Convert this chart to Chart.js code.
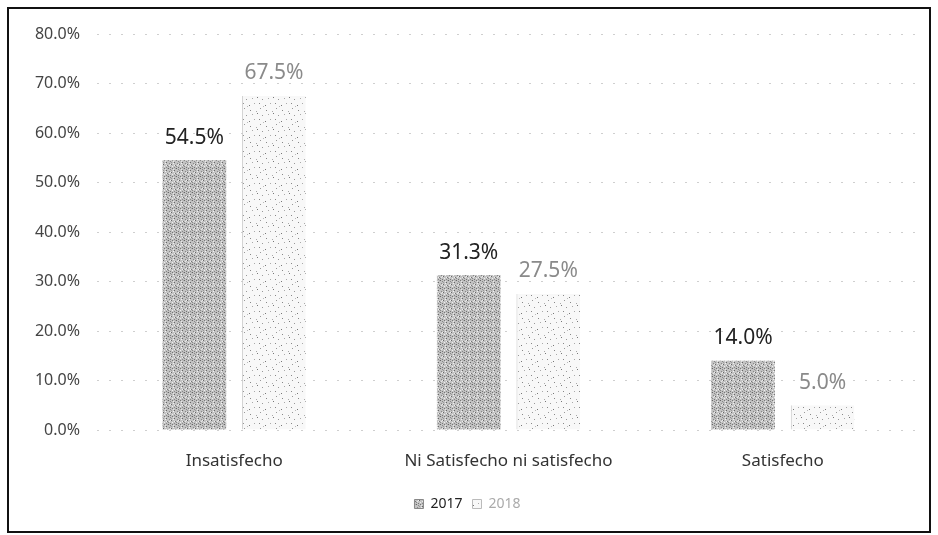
<!DOCTYPE html>
<html>
<head>
<meta charset="utf-8">
<script src="https://cdn.jsdelivr.net/npm/chart.js@4/dist/chart.umd.min.js"></script>
<style>
html,body{margin:0;padding:0;background:#fff;}
#wrap{width:938px;height:535px;}
</style>
</head>
<body>
<div id="wrap"><canvas id="c" width="938" height="535"></canvas></div>
<script>
const categories = ["Insatisfecho", "Ni Satisfecho ni satisfecho", "Satisfecho"];
const seriesNames = ["2017", "2018"];
const values2017 = [54.5, 31.3, 14.0];
const values2018 = [67.5, 27.5, 5.0];
const yTicks = [0, 10, 20, 30, 40, 50, 60, 70, 80];

function makePattern(base, dots, size) {
  const p = document.createElement('canvas');
  p.width = size; p.height = size;
  const g = p.getContext('2d');
  g.fillStyle = base; g.fillRect(0, 0, size, size);
  dots.forEach(d => { g.fillStyle = d[2]; g.fillRect(d[0], d[1], 1, 1); });
  return g.createPattern(p, 'repeat');
}
const ctx = document.getElementById('c').getContext('2d');
const pat2017 = makePattern('#c2c2c2', [
  [0,0,'#666'],[2,1,'#888'],[4,0,'#777'],[6,2,'#666'],[1,3,'#888'],[3,4,'#666'],
  [5,3,'#f2f2f2'],[7,5,'#777'],[0,6,'#888'],[2,7,'#777'],[4,6,'#eee'],[6,7,'#888'],
  [1,5,'#e6e6e6'],[5,1,'#e6e6e6'],[3,2,'#999'],[7,0,'#aaa'],[2,4,'#eee'],[6,5,'#eee']
], 8);
const pat2018 = makePattern('#f8f8f8', [
  [1,1,'#777'],[6,3,'#999'],[3,7,'#888'],[9,9,'#777'],[12,2,'#aaa'],[4,12,'#999'],
  [10,14,'#888'],[14,7,'#aaa'],[7,10,'#bbb'],[0,15,'#aaa']
], 16);

const frame = {
  id: 'frame',
  afterDraw(chart) {
    const c = chart.ctx;
    c.save();
    c.strokeStyle = '#111';
    c.lineWidth = 2;
    c.strokeRect(8, 8, 922, 524);
    c.restore();
  }
};

const valueLabels = {
  id: 'valueLabels',
  afterDatasetsDraw(chart) {
    const c = chart.ctx;
    c.save();
    c.textAlign = 'center';
    c.textBaseline = 'bottom';
    chart.data.datasets.forEach((ds, di) => {
      const meta = chart.getDatasetMeta(di);
      meta.data.forEach((bar, i) => {
        c.font = '21px "Noto Sans", sans-serif';
        c.fillStyle = di === 0 ? '#222' : '#8a8a8a';
        c.fillText(ds.data[i].toFixed(1) + '%', bar.x, bar.y - 12);
      });
    });
    c.restore();
  }
};

new Chart(ctx, {
  type: 'bar',
  data: {
    labels: categories,
    datasets: [
      { label: seriesNames[0], data: values2017, backgroundColor: pat2017, borderWidth: 0 },
      { label: seriesNames[1], data: values2018, backgroundColor: pat2018, borderColor: '#c8c8c8', borderWidth: {left:1}, borderSkipped: false }
    ]
  },
  options: {
    responsive: false,
    animation: false,
    layout: { padding: { left: 15, right: 18, top: 34, bottom: 14 } },
    datasets: { bar: { categoryPercentage: 0.58, barPercentage: 0.8 } },
    plugins: {
      legend: {
        position: 'bottom',
        labels: {
          boxWidth: 9, boxHeight: 9, padding: 10,
          font: { size: 14, family: '"Noto Sans", sans-serif' },
          generateLabels(chart) {
            return chart.data.datasets.map((ds, i) => ({
              text: ds.label,
              fillStyle: ds.backgroundColor,
              strokeStyle: i === 0 ? '#888' : '#bbb',
              lineWidth: 1,
              fontColor: i === 0 ? '#222' : '#aaa',
              datasetIndex: i,
              hidden: false
            }));
          }
        }
      },
      tooltip: { enabled: false }
    },
    scales: {
      x: {
        grid: { display: false, drawTicks: false },
        border: { display: false },
        ticks: { color: '#333', padding: 21, font: { size: 17, family: '"Noto Sans", sans-serif' } },
        afterFit(s) { s.height = 57; }
      },
      y: {
        min: 0, max: 80,
        afterBuildTicks(s) { s.ticks = yTicks.map(v => ({ value: v })); },
        grid: { color: '#cfcfcf', drawTicks: false, lineWidth: 1 },
        border: { display: false, dash: [2, 10] },
        ticks: {
          color: '#444', padding: 17,
          font: { size: 16, family: '"Noto Sans", sans-serif' },
          callback: v => v.toFixed(1) + '%'
        },
        afterFit(s) { s.width = 82; }
      }
    }
  },
  plugins: [frame, valueLabels]
});
</script>
</body>
</html>
